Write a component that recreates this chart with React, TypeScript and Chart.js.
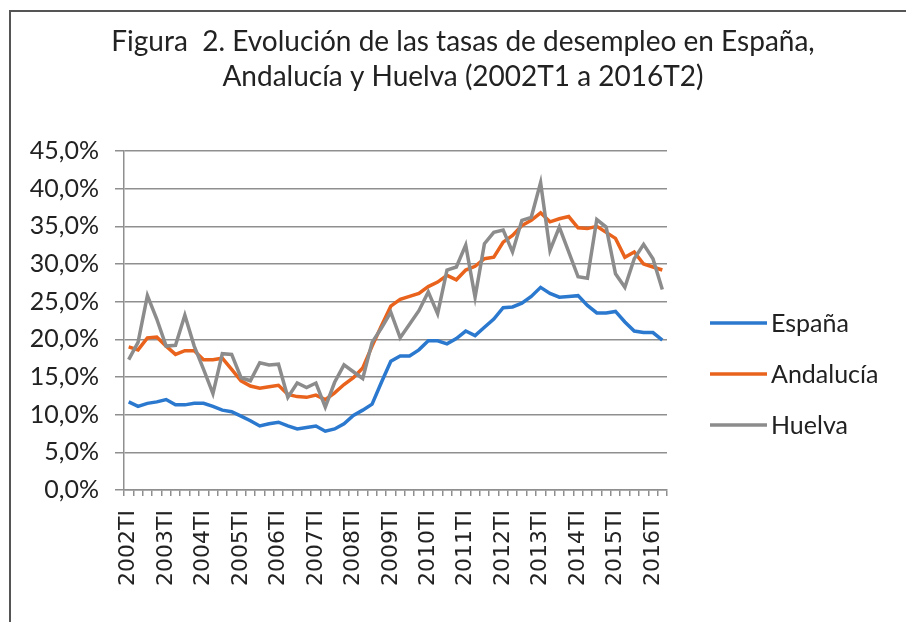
import React, { useEffect, useRef } from 'react';
import { Chart, registerables } from 'chart.js';

Chart.register(...registerables);

const categories = [
  '2002TI', '2002TII', '2002TIII', '2002TIV',
  '2003TI', '2003TII', '2003TIII', '2003TIV',
  '2004TI', '2004TII', '2004TIII', '2004TIV',
  '2005TI', '2005TII', '2005TIII', '2005TIV',
  '2006TI', '2006TII', '2006TIII', '2006TIV',
  '2007TI', '2007TII', '2007TIII', '2007TIV',
  '2008TI', '2008TII', '2008TIII', '2008TIV',
  '2009TI', '2009TII', '2009TIII', '2009TIV',
  '2010TI', '2010TII', '2010TIII', '2010TIV',
  '2011TI', '2011TII', '2011TIII', '2011TIV',
  '2012TI', '2012TII', '2012TIII', '2012TIV',
  '2013TI', '2013TII', '2013TIII', '2013TIV',
  '2014TI', '2014TII', '2014TIII', '2014TIV',
  '2015TI', '2015TII', '2015TIII', '2015TIV',
  '2016TI', '2016TII',
];

const espana = [
  11.7, 11.1, 11.5, 11.7, 12.0, 11.3, 11.3, 11.5, 11.5, 11.1, 10.6, 10.4, 9.8, 9.2, 8.5, 8.8,
  9.0, 8.5, 8.1, 8.3, 8.5, 7.8, 8.1, 8.8, 9.9, 10.6, 11.4, 14.3, 17.1, 17.8, 17.8,
  18.6, 19.8, 19.8, 19.4, 20.1, 21.1, 20.5, 21.6, 22.7, 24.2, 24.3, 24.8, 25.7, 26.9,
  26.1, 25.6, 25.7, 25.8, 24.5, 23.5, 23.5, 23.7, 22.3, 21.1, 20.9, 20.9, 19.9,
];

const andalucia = [
  19.0, 18.6, 20.2, 20.3, 19.1, 18.0, 18.5, 18.5, 17.3, 17.3, 17.5, 16.0, 14.5, 13.8, 13.5, 13.7,
  13.9, 12.7, 12.4, 12.3, 12.6, 12.0, 12.9, 14.0, 14.9, 16.2, 19.1, 21.8, 24.4, 25.3, 25.7,
  26.1, 27.0, 27.6, 28.5, 27.9, 29.2, 29.7, 30.7, 30.9, 32.9, 33.8, 35.1, 35.8, 36.8,
  35.6, 36.0, 36.3, 34.8, 34.7, 35.0, 34.2, 33.4, 30.9, 31.6, 30.0, 29.6, 29.2,
];

const huelva = [
  17.3, 19.6, 25.8, 22.7, 19.1, 19.2, 23.2, 19.1, 16.0, 12.8, 18.1, 18.0, 14.9, 14.5, 16.9, 16.6,
  16.7, 12.3, 14.2, 13.6, 14.2, 11.0, 14.3, 16.6, 15.7, 14.8, 19.6, 21.5, 23.6, 20.2, 22.0,
  23.8, 26.3, 23.4, 29.2, 29.6, 32.5, 25.6, 32.7, 34.2, 34.5, 31.6, 35.8, 36.2, 40.8,
  31.8, 34.9, 31.6, 28.3, 28.1, 35.9, 34.9, 28.7, 26.9, 30.7, 32.6, 30.7, 26.6,
];

const seriesNames = ['España', 'Andalucía', 'Huelva'];
const titleLines = [
  'Figura  2. Evolución de las tasas de desempleo en España,',
  'Andalucía y Huelva (2002T1 a 2016T2)',
];

const BLUE = '#2b78cf';
const ORANGE = '#e9631c';
const GRAY = '#8c8c8c';
const GRID = '#8f8f8f';
const TEXT = '#222222';

const decor = {
  id: 'decor',
  afterDraw(chart: any) {
    const ctx = chart.ctx as CanvasRenderingContext2D;
    const a = chart.chartArea;
    ctx.save();
    // title
    ctx.fillStyle = TEXT;
    ctx.font = '28px Lato';
    ctx.textAlign = 'center';
    ctx.textBaseline = 'middle';
    titleLines.forEach((t, k) => ctx.fillText(t, 463, 42 + k * 35));
    // legend
    const x0 = a.right + 43;
    const x1 = a.right + 100;
    const yStart = a.top + 172;
    ctx.font = '25px Lato';
    ctx.textAlign = 'left';
    chart.data.datasets.forEach((ds: any, k: number) => {
      const y = yStart + k * 51;
      ctx.strokeStyle = ds.borderColor;
      ctx.lineWidth = ds.borderWidth;
      ctx.beginPath();
      ctx.moveTo(x0, y);
      ctx.lineTo(x1, y);
      ctx.stroke();
      ctx.fillStyle = TEXT;
      ctx.fillText(ds.label, x1 + 4, y + 1);
    });
    ctx.restore();
  },
};

export default function App() {
  const ref = useRef<HTMLCanvasElement>(null);
  useEffect(() => {
    document.body.style.margin = '0';
    document.body.style.overflow = 'hidden';
    const chart = new Chart(ref.current as HTMLCanvasElement, {
      type: 'line',
      data: {
        labels: categories,
        datasets: [
          { label: seriesNames[0], data: espana, borderColor: BLUE, backgroundColor: BLUE, borderWidth: 3.5, pointRadius: 0, tension: 0, order: 2 },
          { label: seriesNames[1], data: andalucia, borderColor: ORANGE, backgroundColor: ORANGE, borderWidth: 3.5, pointRadius: 0, tension: 0, order: 1 },
          { label: seriesNames[2], data: huelva, borderColor: GRAY, backgroundColor: GRAY, borderWidth: 3.5, pointRadius: 0, tension: 0, order: 0 },
        ],
      },
      options: {
        responsive: false,
        animation: false,
        events: [],
        layout: { padding: { top: 151, left: 10, right: 239, bottom: 0 } },
        plugins: {
          legend: { display: false },
          title: { display: false },
          tooltip: { enabled: false },
        },
        scales: {
          x: {
            offset: true,
            grid: { drawOnChartArea: false, tickLength: 6, color: GRID, lineWidth: 1.5, offset: true },
            border: { color: GRID, width: 1.5 },
            ticks: {
              autoSkip: false,
              maxRotation: 90,
              minRotation: 90,
              padding: 14,
              color: TEXT,
              font: { family: 'DejaVu Sans', size: 22 },
              callback: (_v: any, i: number) => (categories[i].endsWith('TI') ? categories[i] : ''),
            },
            afterFit: (s: any) => { s.height = 132; },
          },
          y: {
            min: 0,
            max: 45,
            ticks: {
              stepSize: 5,
              padding: 16,
              color: TEXT,
              font: { family: 'Lato', size: 25 },
              callback: (v: any) => Number(v).toFixed(1).replace('.', ',') + '%',
            },
            grid: { color: GRID, lineWidth: 1.5, tickLength: 9 },
            border: { color: GRID, width: 1.5 },
            afterFit: (s: any) => { s.width = 114; },
          },
        },
      },
      plugins: [decor],
    });
    return () => chart.destroy();
  }, []);

  return (
    <div style={{ position: 'absolute', left: 0, top: 0, width: 906, height: 622, background: '#fff', overflow: 'hidden' }}>
      <div style={{ position: 'absolute', left: 9, top: 10, width: 920, height: 640, borderTop: '2px solid #555', borderLeft: '2px solid #555' }} />
      <canvas ref={ref} width={906} height={622} style={{ position: 'absolute', left: 0, top: 0 }} />
    </div>
  );
}
